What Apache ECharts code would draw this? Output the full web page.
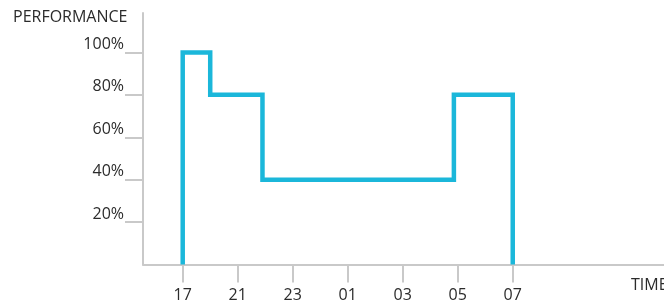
<!DOCTYPE html>
<html>
<head>
<meta charset="utf-8">
<script src="https://cdn.jsdelivr.net/npm/echarts@6/dist/echarts.min.js"></script>
<style>html,body{margin:0;padding:0;background:#fff;}#c{width:664px;height:305px;}</style>
</head>
<body>
<div id="c"></div>
<script>
// Data
var timeLabels = ['17', '21', '23', '01', '03', '05', '07'];
var tickPositions = [0, 1, 2, 3, 4, 5, 6];
var yTicks = [20, 40, 60, 80, 100];
// step line vertices: [time position, performance %]
var stepX = [0, 0, 0.5, 0.5, 1.45, 1.45, 4.93, 4.93, 6, 6];
var stepY = [0, 100, 100, 80, 80, 40, 40, 80, 80, 0];

var data = stepX.map(function (x, i) { return [x, stepY[i]]; });
var axisColor = '#c9c9c9';
var font = 'Open Sans';
var textColor = '#2b2b2b';

var chart = echarts.init(document.getElementById('c'));
chart.setOption({
  animation: false,
  textStyle: { fontFamily: font },
  title: [
    { text: 'PERFORMANCE', left: 13, top: 9, padding: 0, textStyle: { fontFamily: font, fontSize: 16, fontWeight: 'normal', color: textColor } },
    { text: 'TIME', left: 631, top: 277, padding: 0, textStyle: { fontFamily: font, fontSize: 16, fontWeight: 'normal', color: textColor } }
  ],
  grid: { left: 143, right: 0, top: 13, bottom: 40.5, containLabel: false },
  xAxis: {
    type: 'value',
    min: -0.722,
    max: 8.75,
    splitLine: { show: false },
    axisLine: { show: true, onZero: false, lineStyle: { color: axisColor, width: 2 } },
    axisTick: { show: true, length: 18, customValues: tickPositions, lineStyle: { color: axisColor, width: 2 } },
    axisLabel: {
      customValues: tickPositions,
      margin: 23,
      fontSize: 16,
      color: textColor,
      fontFamily: font,
      formatter: function (v) { return timeLabels[Math.round(v)]; }
    }
  },
  yAxis: {
    type: 'value',
    min: 0,
    max: 118.6,
    splitLine: { show: false },
    axisLine: { show: true, onZero: false, lineStyle: { color: axisColor, width: 2 } },
    axisTick: { show: true, length: 18, customValues: yTicks, lineStyle: { color: axisColor, width: 2 } },
    axisLabel: {
      customValues: yTicks,
      margin: 19,
      fontSize: 16,
      color: textColor,
      fontFamily: font,
      verticalAlign: 'bottom',
      formatter: function (v) { return v + '%'; }
    }
  },
  series: [{
    type: 'line',
    data: data,
    symbol: 'none',
    lineStyle: { color: '#1bb7da', width: 4.5, join: 'miter' },
    clip: false
  }]
});
</script>
</body>
</html>
